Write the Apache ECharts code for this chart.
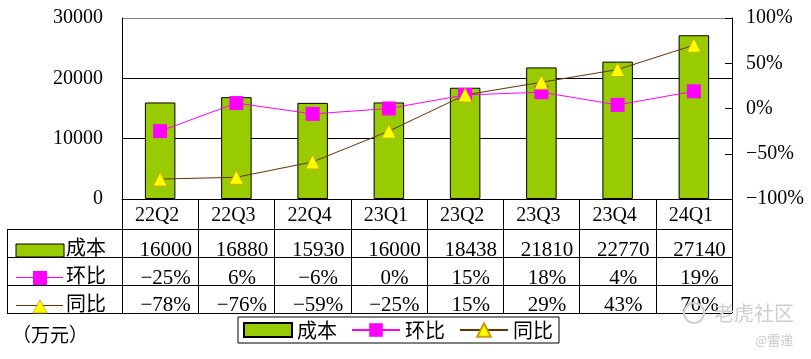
<!DOCTYPE html>
<html><head><meta charset="utf-8">
<script src="https://cdn.jsdelivr.net/npm/echarts/dist/echarts.min.js"></script>
<style>html,body{margin:0;padding:0;background:#fff}#c{width:811px;height:359px}</style>
</head><body><div id="c"></div>
<script>
const categories = ['22Q2','22Q3','22Q4','23Q1','23Q2','23Q3','23Q4','24Q1'];
const costValues = [16000,16880,15930,16000,18438,21810,22770,27140];
const qoqValues = [-25,6,-6,0,15,18,4,19];
const yoyValues = [-78,-76,-59,-25,15,29,43,70];
const seriesNames = ['成本','环比','同比'];
const unitLabel = '（万元）';
const watermark = ['老虎社区','@雷递'];

const SERIF = '"Liberation Serif", "Noto Sans CJK SC", serif';
const CJK = '"Noto Sans CJK SC", sans-serif';
const GREEN = '#99CC00', MAGENTA = '#FF00FF', BROWN = '#663300', YELLOW = '#FFFF00';
const pct = v => (v < 0 ? '\u2212' + Math.abs(v) : String(v)) + '%';

const chart = echarts.init(document.getElementById('c'));

function rowAxis(margin, fmt) {
  return {
    type: 'category', data: categories, position: 'bottom', gridIndex: 0,
    axisLine: { show: false, onZero: false }, axisTick: { show: false },
    axisLabel: { interval: 0, margin: margin, verticalAlign: 'middle', fontSize: 21,
      padding: [0, 0, 0, 11], fontFamily: SERIF, color: '#000', formatter: fmt }
  };
}

const tableLines = [229, 257, 285, 313].map(y => ({
  type: 'line', shape: { x1: 7, y1: y + 0.5, x2: 732, y2: y + 0.5 },
  style: { stroke: '#000', lineWidth: 1 }, z: 10
}));

option = {
  animation: false,
  backgroundColor: '#fff',
  grid: { left: 122, top: 18, width: 610, height: 181 },
  legend: {
    left: 238, top: 317, orient: 'horizontal',
    borderColor: '#000', borderWidth: 1, padding: [3, 6, 3, 5],
    itemWidth: 48, itemHeight: 17, itemGap: 14,
    textStyle: { fontSize: 20, fontFamily: CJK, color: '#000' },
    data: [
      { name: seriesNames[0], icon: 'path://M0,0M0,1.5h48v14h-48zM48,17' },
      { name: seriesNames[1] },
      { name: seriesNames[2] }
    ]
  },
  xAxis: [
    {
      type: 'category', data: categories, position: 'bottom',
      axisLine: { show: true, onZero: false, lineStyle: { color: '#000' } },
      axisTick: { show: true, interval: 0, length: 114, lineStyle: { color: '#000' } },
      axisLabel: { interval: 0, margin: 17, verticalAlign: 'middle', fontSize: 20, padding: [0, 6, 0, 0],
        fontFamily: SERIF, color: '#000' }
    },
    rowAxis(51, (v, i) => String(costValues[i])),
    rowAxis(79, (v, i) => pct(qoqValues[i])),
    rowAxis(106, (v, i) => pct(yoyValues[i]))
  ],
  yAxis: [
    {
      type: 'value', min: 0, max: 30000, interval: 10000, position: 'left',
      axisLine: { show: true, lineStyle: { color: '#000' } },
      axisTick: { show: false },
      axisLabel: { margin: 19, fontSize: 20, fontFamily: SERIF, color: '#000', formatter: v => String(v) },
      splitLine: { show: true, lineStyle: { color: ['#000', '#000', '#000', '#808080'], width: 1 } }
    },
    {
      type: 'value', min: -100, max: 100, interval: 50, position: 'right',
      axisLine: { show: true, lineStyle: { color: '#000' } },
      axisTick: { show: true, inside: true, length: 7, lineStyle: { color: '#000' } },
      axisLabel: { margin: 14, fontSize: 20, fontFamily: SERIF, color: '#000', formatter: pct },
      splitLine: { show: false }
    }
  ],
  series: [
    {
      name: seriesNames[0], type: 'bar', data: costValues, barWidth: '40%',
      itemStyle: { color: GREEN, borderColor: '#000', borderWidth: 1 }
    },
    {
      name: seriesNames[1], type: 'line', yAxisIndex: 1, data: qoqValues,
      symbol: 'rect', symbolSize: 14,
      lineStyle: { color: MAGENTA, width: 1 },
      itemStyle: { color: MAGENTA, borderWidth: 0 }
    },
    {
      name: seriesNames[2], type: 'line', yAxisIndex: 1, data: yoyValues,
      symbol: 'triangle', symbolSize: 14,
      lineStyle: { color: BROWN, width: 1 },
      itemStyle: { color: YELLOW, borderColor: '#C8A000', borderWidth: 0.8 }
    }
  ],
  graphic: [
    ...tableLines,
    { type: 'line', shape: { x1: 7.5, y1: 229, x2: 7.5, y2: 313.5 }, style: { stroke: '#000', lineWidth: 1 }, z: 10 },
    { type: 'rect', shape: { x: 16, y: 244, width: 48, height: 13 }, style: { fill: GREEN, stroke: '#000', lineWidth: 1 }, z: 10 },
    { type: 'text', x: 66, y: 247, style: { text: seriesNames[0], fontSize: 20, fontFamily: CJK, fill: '#000', verticalAlign: 'middle' }, z: 10 },
    { type: 'line', shape: { x1: 16, y1: 277.5, x2: 63, y2: 277.5 }, style: { stroke: MAGENTA, lineWidth: 1 }, z: 10 },
    { type: 'rect', shape: { x: 33, y: 271, width: 14, height: 14 }, style: { fill: MAGENTA }, z: 11 },
    { type: 'text', x: 66, y: 275, style: { text: seriesNames[1], fontSize: 20, fontFamily: CJK, fill: '#000', verticalAlign: 'middle' }, z: 10 },
    { type: 'line', shape: { x1: 16, y1: 305.5, x2: 63, y2: 305.5 }, style: { stroke: BROWN, lineWidth: 1 }, z: 10 },
    { type: 'polygon', shape: { points: [[33, 313], [47, 313], [40, 300]] }, style: { fill: YELLOW, stroke: '#C8A000', lineWidth: 0.8 }, z: 11 },
    { type: 'text', x: 66, y: 303, style: { text: seriesNames[2], fontSize: 20, fontFamily: CJK, fill: '#000', verticalAlign: 'middle' }, z: 10 },
    { type: 'text', x: 12, y: 335, style: { text: unitLabel, fontSize: 19, fontFamily: CJK, fill: '#000', verticalAlign: 'middle' }, z: 10 },
    { type: 'circle', shape: { cx: 694, cy: 313, r: 10 }, style: { fill: 'none', stroke: '#cfcfcf', lineWidth: 2 }, z: 20 },
    { type: 'text', x: 714, y: 313, style: { text: watermark[0], fontSize: 20, fontFamily: CJK, fill: '#cfcfcf', verticalAlign: 'middle' }, z: 20 },
    { type: 'text', x: 755, y: 340, style: { text: watermark[1], fontSize: 13, fontFamily: CJK, fill: '#c8c8c8', verticalAlign: 'middle' }, z: 20 }
  ]
};
chart.setOption(option);
</script></body></html>
